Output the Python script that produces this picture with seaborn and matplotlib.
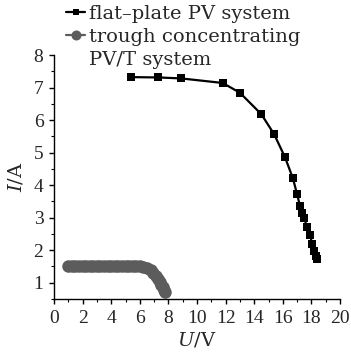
import numpy as np
import pandas as pd
import matplotlib
matplotlib.use("Agg")
import matplotlib.pyplot as plt
from matplotlib.ticker import MultipleLocator
from matplotlib.lines import Line2D
import seaborn as sns

# flat-plate PV system
flat_u = [5.4, 7.3, 8.9, 11.8, 13.0, 14.5, 15.4, 16.15, 16.7, 17.0, 17.2, 17.35, 17.5, 17.7, 17.9, 18.05, 18.2, 18.3, 18.4]
flat_i = [7.32, 7.31, 7.28, 7.14, 6.84, 6.18, 5.56, 4.86, 4.22, 3.72, 3.36, 3.15, 2.98, 2.70, 2.48, 2.20, 1.98, 1.82, 1.72]

# trough concentrating PV/T system
trough_u = [1.0, 1.25, 1.5, 1.75, 2.0, 2.25, 2.5, 2.75, 3.0, 3.25, 3.5, 3.75, 4.0, 4.25, 4.5, 4.75, 5.0, 5.25, 5.5, 5.75, 6.0, 6.25, 6.5, 6.75, 6.95, 7.1, 7.25, 7.4, 7.5, 7.6, 7.7, 7.75]
trough_i = [1.5, 1.5, 1.5, 1.5, 1.5, 1.5, 1.5, 1.5, 1.5, 1.5, 1.5, 1.5, 1.5, 1.5, 1.5, 1.5, 1.5, 1.5, 1.5, 1.5, 1.5, 1.49, 1.45, 1.38, 1.3, 1.22, 1.12, 1.02, 0.94, 0.86, 0.78, 0.72]

labels = ["flat\u2013plate PV system", "trough concentrating", "PV/T system"]

sns.set_theme(style="ticks")
plt.rcParams["font.family"] = ["DejaVu Serif"]
plt.rcParams["mathtext.fontset"] = "dejavuserif"

fig = plt.figure(figsize=(3.51, 3.55), dpi=100)
ax = fig.add_axes([54/351, 1-299/355, (340-54)/351, (299-55)/355])

df_flat = pd.DataFrame({"U": flat_u, "I": flat_i})
df_tr = pd.DataFrame({"U": trough_u, "I": trough_i})

sns.lineplot(data=df_flat, x="U", y="I", ax=ax, color="black", marker="s",
             markersize=6, linewidth=1.6, markeredgewidth=0, label=labels[0], sort=False)
sns.lineplot(data=df_tr, x="U", y="I", ax=ax, color="#5c5c5c", marker="o",
             markersize=9, linewidth=1.6, markeredgewidth=0, label=labels[1], sort=False)

ax.set_xlim(0, 20)
ax.set_ylim(0.5, 8)
ax.xaxis.set_major_locator(MultipleLocator(2))
ax.xaxis.set_minor_locator(MultipleLocator(1))
ax.yaxis.set_major_locator(MultipleLocator(1))
ax.yaxis.set_minor_locator(MultipleLocator(0.5))
ax.set_yticks([1, 2, 3, 4, 5, 6, 7, 8])
ax.tick_params(axis="both", which="major", labelsize=14, length=3.6, width=1, color="black", pad=4)
ax.tick_params(axis="both", which="minor", length=2.2, width=0.8, color="black")
for lab in ax.get_xticklabels() + ax.get_yticklabels():
    lab.set_family("Liberation Serif")
for s in ["top", "right"]:
    ax.spines[s].set_visible(False)
for s in ["left", "bottom"]:
    ax.spines[s].set_color("black")
    ax.spines[s].set_linewidth(1)

ax.set_xlabel("$U$/V", fontsize=14, labelpad=3)
ax.set_ylabel("$I$/A", fontsize=14, labelpad=6)

ax.get_legend().remove()
handles, _ = ax.get_legend_handles_labels()
blank = Line2D([], [], linestyle="none", marker=None)
fig.legend(handles + [blank], labels, loc="upper left", bbox_to_anchor=(64/351, 1-3/355),
           frameon=False, fontsize=14, handlelength=1.0, handletextpad=0.2,
           borderaxespad=0, borderpad=0.1, labelspacing=0.25, markerscale=0.8)

fig.savefig("out.png", dpi=100)
